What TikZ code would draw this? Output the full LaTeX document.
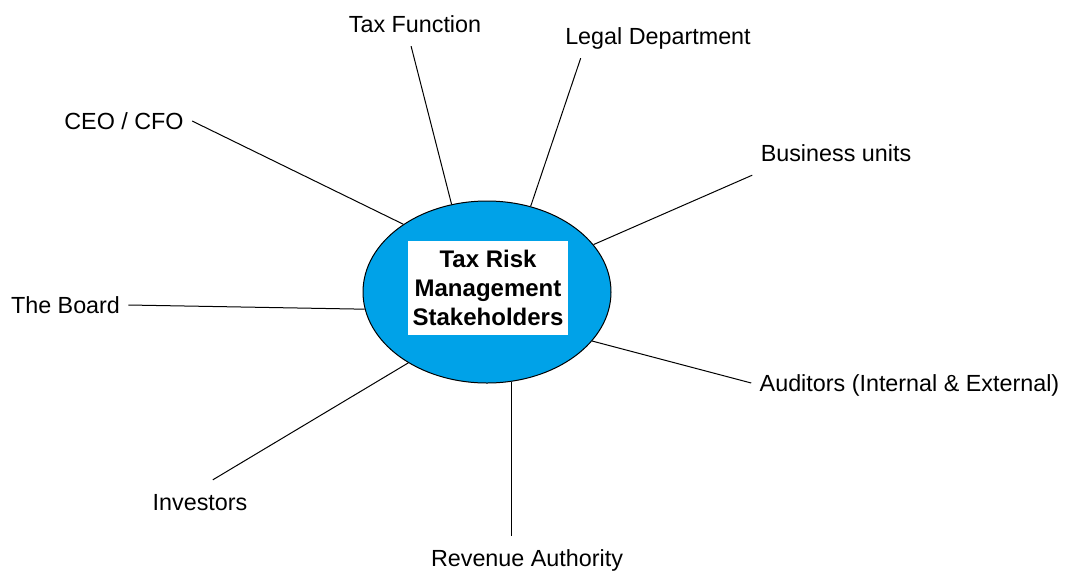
\documentclass[tikz,border=0pt]{standalone}
\usepackage{fontspec}
\setmainfont{Liberation Sans}
\usetikzlibrary{shapes.geometric}
\definecolor{paintblue}{RGB}{0,162,232}

\begin{document}
\begin{tikzpicture}[x=0.75pt,y=-0.75pt,line width=0.75pt,
  hub/.style={ellipse,draw,fill=paintblue,minimum width=186pt,minimum height=136.5pt,inner sep=0pt},
  title/.style={fill=white,minimum width=120pt,minimum height=70.5pt,align=center,font=\fontsize{18}{22}\selectfont\bfseries},
  who/.style={inner xsep=6pt,inner ysep=10pt,text height=12.5pt,text depth=0pt,font=\fontsize{17.5}{21}\selectfont}]
\useasboundingbox (0,0) rectangle (1067,572);
\node[hub] (hub) at (487,292) {};
\node[title] (T) at (488,288) {Tax Risk\\Management\\Stakeholders};
\node[who] (ceo) at (124,121) {CEO / CFO};
\node[who] (tax) at (415,24) {Tax Function};
\node[who] (legal) at (658,36) {Legal Department};
\node[who] (biz) at (836,153) {Business units};
\node[who] (board) at (65.5,305) {The Board};
\node[who] (aud) at (909.5,383) {Auditors (Internal \& External)};
\node[who] (inv) at (200,502) {Investors};
\node[who] (rev) at (527,558) {Revenue Authority};
\draw (hub.141.6) -- (ceo.east);
\draw (hub.112.5) -- (tax.-100);
\draw (hub.63.2) -- (legal.-164);
\draw (hub.24.8) -- (biz.south west);
\draw (hub.188.9) -- (board.east);
\draw (hub.335.6) -- (aud.west);
\draw (hub.222.3) -- (inv.60);
\draw (hub.285.5) -- (hub.285.5 |- rev.north);
\end{tikzpicture}
\end{document}
